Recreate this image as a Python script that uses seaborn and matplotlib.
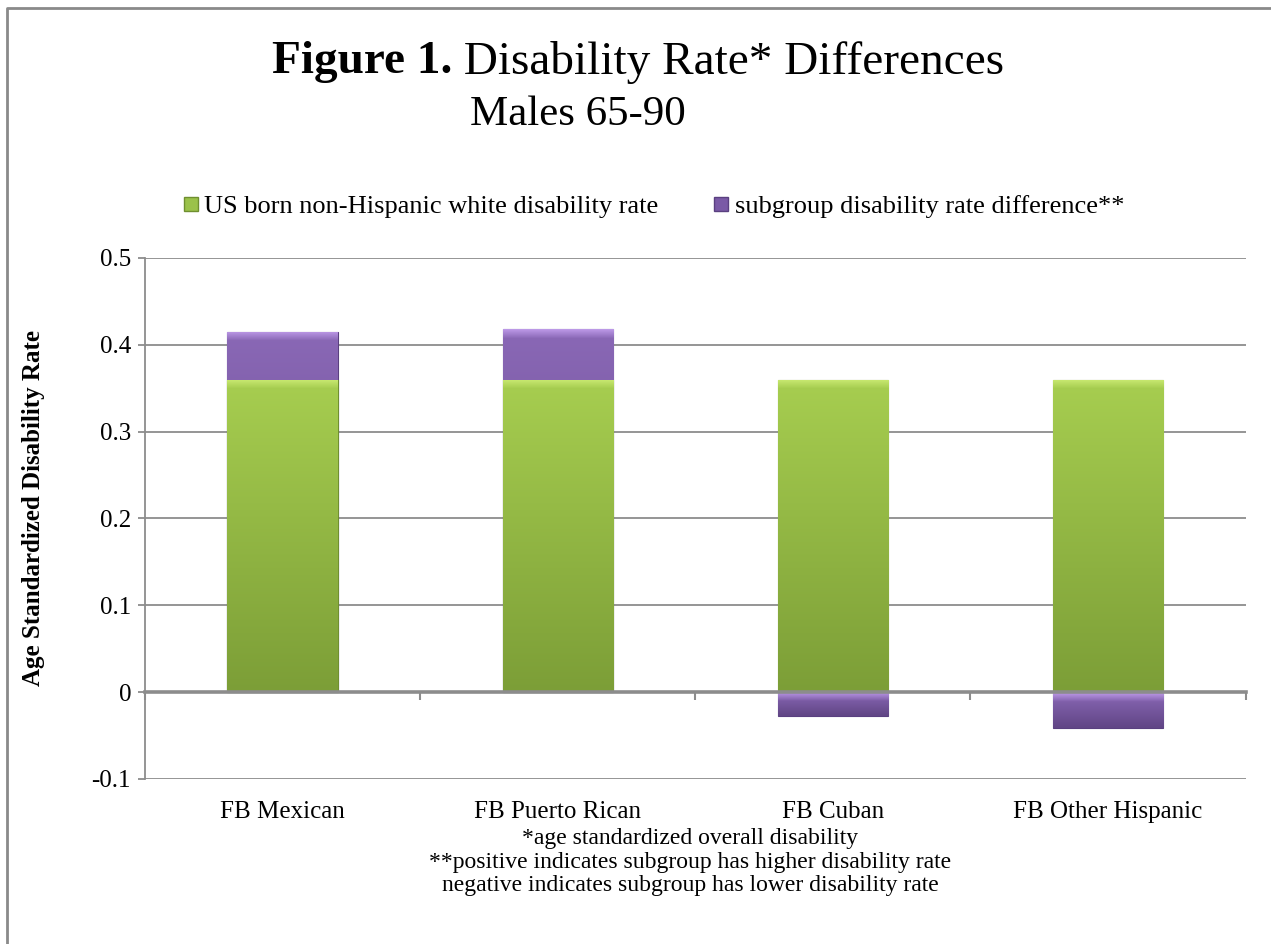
import numpy as np
import matplotlib
matplotlib.use("Agg")
import matplotlib.pyplot as plt
import seaborn as sns
from matplotlib.colors import to_rgb
from matplotlib.lines import Line2D

# Données
categories = ["FB Mexican", "FB Puerto Rican", "FB Cuban", "FB Other Hispanic"]
base_rate = [0.36, 0.36, 0.36, 0.36]
difference = [0.055, 0.058, -0.028, -0.041]
yticks = [-0.1, 0, 0.1, 0.2, 0.3, 0.4, 0.5]
legend_labels = ["US born non-Hispanic white disability rate",
                 "subgroup disability rate difference**"]
notes = ["*age standardized overall disability",
         "**positive indicates subgroup has higher disability rate",
         "negative indicates subgroup has lower disability rate"]

green = "#9BC24A"
purple = "#7A5AA6"
grid_col = "#8C8C8C"

sns.set_theme(style="white")
plt.rcParams["font.family"] = ["Liberation Serif", "DejaVu Serif"]
plt.rcParams["text.color"] = "black"

fig = plt.figure(figsize=(12.71, 9.44), dpi=100)
ax = fig.add_axes([0.114, 0.1748, 0.866, 0.5519])

# barres violettes : au-dessus du vert si positif, sous zéro si négatif
purple_top = [b + d if d > 0 else d for b, d in zip(base_rate, difference)]
sns.barplot(x=categories, y=purple_top, color=purple, width=0.4, saturation=1,
            ax=ax, edgecolor="#5A4080", linewidth=0.8)
sns.barplot(x=categories, y=base_rate, color=green, width=0.4, saturation=1,
            ax=ax, edgecolor="#6F8F30", linewidth=0.8)

ax.set_xlim(-0.5, len(categories) - 0.5)
ax.set_ylim(-0.1, 0.5)


def bar_gradient(n_px, bottom, top, light):
    # dégradé vertical + petit biseau clair en haut
    bottom, top, light = map(np.array, (to_rgb(bottom), to_rgb(top), to_rgb(light)))
    rows = []
    for r in range(n_px):
        t = r / max(n_px - 1, 1)
        c = bottom + (top - bottom) * t
        d = n_px - 1 - r
        if d < 9:
            a = 1 - d / 9
            c = c + (light - c) * a * 0.8
        rows.append(c)
    return np.array(rows).reshape(n_px, 1, 3)


axes_h_px = 0.5519 * 944
n = len(categories)
for i, p in enumerate(ax.patches):
    x0, y0 = p.get_x(), p.get_y()
    w, h = p.get_width(), p.get_height()
    lo, hi = min(y0, y0 + h), max(y0, y0 + h)
    n_px = max(int(abs(h) / 0.6 * axes_h_px), 2)
    if i < n:
        img = bar_gradient(n_px, "#614686", "#8A68B6", "#C8A4F2")
    else:
        img = bar_gradient(n_px, "#7C9E37", "#A7CE50", "#D2F07A")
    im = ax.imshow(img, extent=[x0, x0 + w, lo, hi], origin="lower",
                   aspect="auto", interpolation="bilinear",
                   zorder=p.get_zorder() + 0.01)
    im.set_clip_path(p)

ax.set_xlim(-0.5, n - 0.5)
ax.set_ylim(-0.1, 0.5)
ax.set_yticks(yticks)
ax.set_yticklabels(["-0.1", "0", "0.1", "0.2", "0.3", "0.4", "0.5"])
ax.set_axisbelow(True)
ax.yaxis.grid(True, color=grid_col, linewidth=1.3)
ax.xaxis.grid(False)

for s in ["top", "right", "bottom"]:
    ax.spines[s].set_visible(False)
ax.spines["left"].set_color(grid_col)
ax.spines["left"].set_linewidth(1.3)

ax.tick_params(axis="y", left=True, length=5, width=1.3, color=grid_col,
               labelsize=18, pad=5, labelcolor="black")
ax.tick_params(axis="x", bottom=False, length=0, labelsize=18, pad=16,
               labelcolor="black")
ax.set_xlabel("")
ax.set_ylabel("Age Standardized Disability Rate", fontsize=18,
              fontweight="bold", color="black")
ax.yaxis.set_label_coords(-0.091, 0.52)

# axe horizontal à zéro avec graduations entre catégories
zero_frac = (0 - yticks[0]) / (yticks[-1] - yticks[0])
sec = ax.secondary_xaxis(zero_frac)
sec.set_xticks(np.arange(-0.5, n, 1.0))
sec.set_xticklabels([])
sec.tick_params(direction="out", length=6, width=1.5, color=grid_col)
sec.spines["bottom"].set_color(grid_col)
sec.spines["bottom"].set_linewidth(2.6)
sec.set_zorder(5)

# légende
handles = [Line2D([], [], marker="s", linestyle="", markersize=10,
                  markerfacecolor=c, markeredgecolor=e)
           for c, e in [(green, "#6F8F30"), (purple, "#5A4080")]]
fig.legend(handles, legend_labels, loc="center", bbox_to_anchor=(0.513, 0.781),
           ncol=2, frameon=False, fontsize=19, handletextpad=0.1,
           columnspacing=2.0, handlelength=0.8)

# titre : "Figure 1." en gras puis le reste
fig.canvas.draw()
renderer = fig.canvas.get_renderer()
ty = 0.934
t1 = fig.text(0, ty, "Figure 1.", fontsize=34, fontweight="bold", va="center")
t2 = fig.text(0, ty, " Disability Rate* Differences", fontsize=34, va="center")
w1 = t1.get_window_extent(renderer).width / fig.bbox.width
w2 = t2.get_window_extent(renderer).width / fig.bbox.width
start = 0.502 - (w1 + w2) / 2
t1.set_x(start)
t2.set_x(start + w1)
fig.text(0.455, 0.878, "Males 65-90", fontsize=31, ha="center", va="center")

# notes de bas de graphique
for k, line in enumerate(notes):
    fig.text(0.543, 0.112 - k * 0.0252, line, fontsize=17, ha="center", va="center")

# cadre partiel (haut et gauche)
fig.add_artist(Line2D([7 / 1271, 7 / 1271, 1], [0, 1 - 8 / 944, 1 - 8 / 944],
                      color="#8A8A8A", linewidth=2, transform=fig.transFigure))

fig.savefig("out.png", dpi=100)
